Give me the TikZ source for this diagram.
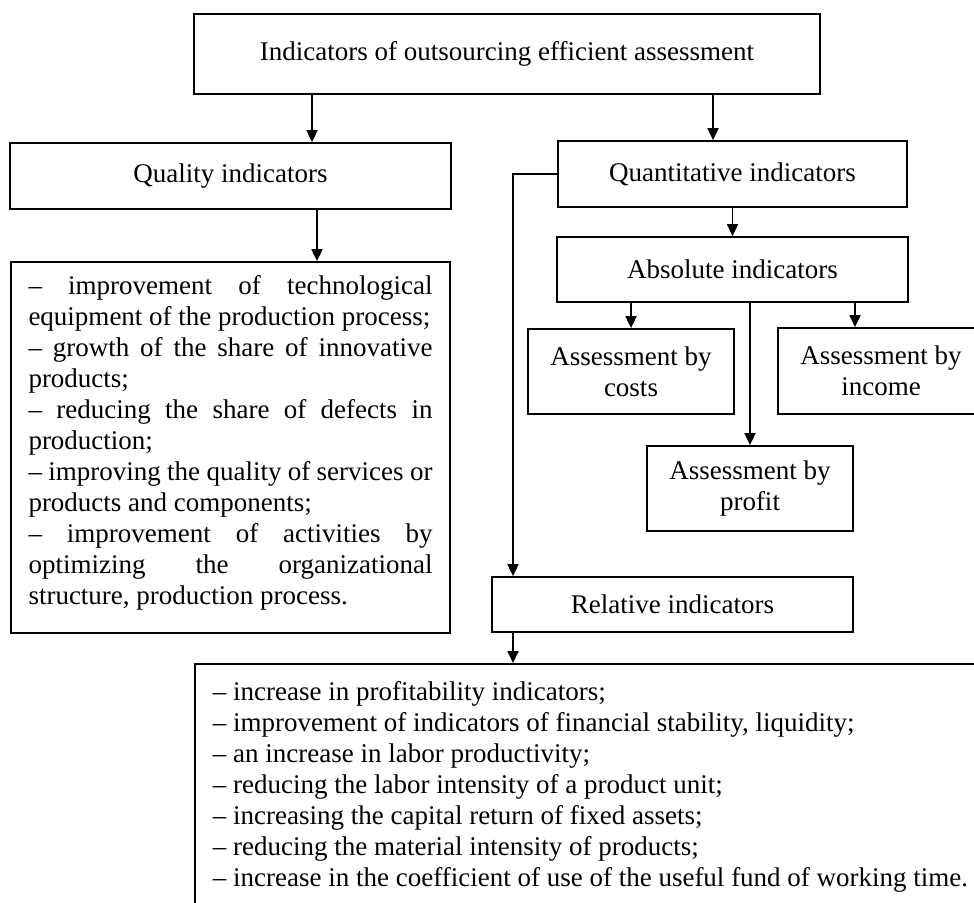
\documentclass[tikz,border=0pt]{standalone}
\usepackage{fontspec}
\setmainfont{Liberation Serif}
\usetikzlibrary{positioning,arrows.meta}

\begin{document}
\begin{tikzpicture}[
			x=0.5pt, y=-0.5pt,
			font=\fontsize{13.5}{15.5}\selectfont,
			% Define styles for the boxes and connectors
			box/.style={rectangle, draw, line width=0.9pt, align=center, inner sep=0pt},
			listbox/.style={rectangle, draw, line width=0.9pt, inner sep=0pt},
			arrow/.style={-{Triangle[length=6pt,width=5.5pt]}, line width=0.9pt}
			]
			\useasboundingbox (0,0) rectangle (974,902);
			\clip (0,0) rectangle (974,902);
			
			% --- Nodes ---
			\node (top) [box, minimum width=313pt, minimum height=40pt] at (507,54) {Indicators of outsourcing efficient assessment};
			
			\node (qual) [box, minimum width=220.5pt, minimum height=33pt] at (230.5,176) {Quality indicators};
			
			\node (quant) [box, minimum width=174.5pt, minimum height=33pt] at (732.5,174) {Quantitative indicators};
			
			\node (abs) [box, minimum width=175.5pt, minimum height=32.5pt] at (732.5,269.5) {Absolute indicators};
			
			% Kinds of absolute assessment
			\node (costs) [box, minimum width=103pt, minimum height=42.5pt] at (631,371.5) {Assessment by\\costs};
			
			\node (income) [box, minimum width=103pt, minimum height=43pt] at (881,371) {Assessment by\\income};
			
			\node (profit) [box, minimum width=103pt, minimum height=42.5pt] at (750,488.5) {Assessment by\\profit};
			
			\node (rel) [box, minimum width=180.5pt, minimum height=27.5pt] at (672.5,604.5) {Relative indicators};
			
			% Left list: quality indicators
			\node (qlist) [listbox, minimum width=219.5pt, minimum height=185.5pt] at (230.5,447.5) {\parbox[c][172pt][t]{202pt}{%
					– improvement of technological\linebreak equipment of the production process;\par
					– growth of the share of innovative\linebreak products;\par
					– reducing the share of defects in\linebreak production;\par
					– improving the quality of services or\linebreak products and components;\par
					– improvement of activities by\linebreak optimizing the organizational\linebreak structure, production process.}};
			
			% Bottom list: relative indicators
			\node (blist) [listbox, anchor=north west, inner xsep=9pt, inner ysep=9pt] at (194,663) {\parbox[t][135pt][t]{385pt}{\raggedright
					– increase in profitability indicators;\\
					– improvement of indicators of financial stability, liquidity;\\
					– an increase in labor productivity;\\
					– reducing the labor intensity of a product unit;\\
					– increasing the capital return of fixed assets;\\
					– reducing the material intensity of products;\\
					– increase in the coefficient of use of the useful fund of working time.}};
			
			% --- Arrows ---
			\draw[arrow] (top.south -| 312,0) -- (qual.north -| 312,0);
			\draw[arrow] (top.south -| 713,0) -- (quant.north -| 713,0);
			\draw[arrow] (qual.south -| 317,0) -- (qlist.north -| 317,0);
			
			\draw[arrow] (quant.south) -- (abs.north);
			\draw[arrow] (abs.south -| costs.north) -- (costs.north);
			\draw[arrow] (abs.south -| 855,0) -- (income.north -| 855,0);
			\draw[arrow] (abs.south -| profit.north) -- (profit.north);
			
			% Bypass from quantitative straight to relative
			\draw[arrow] (quant.west) -| (rel.north -| 513,0);
			\draw[arrow] (rel.south -| 513,0) -- (blist.north -| 513,0);
			
		\end{tikzpicture}
\end{document}
